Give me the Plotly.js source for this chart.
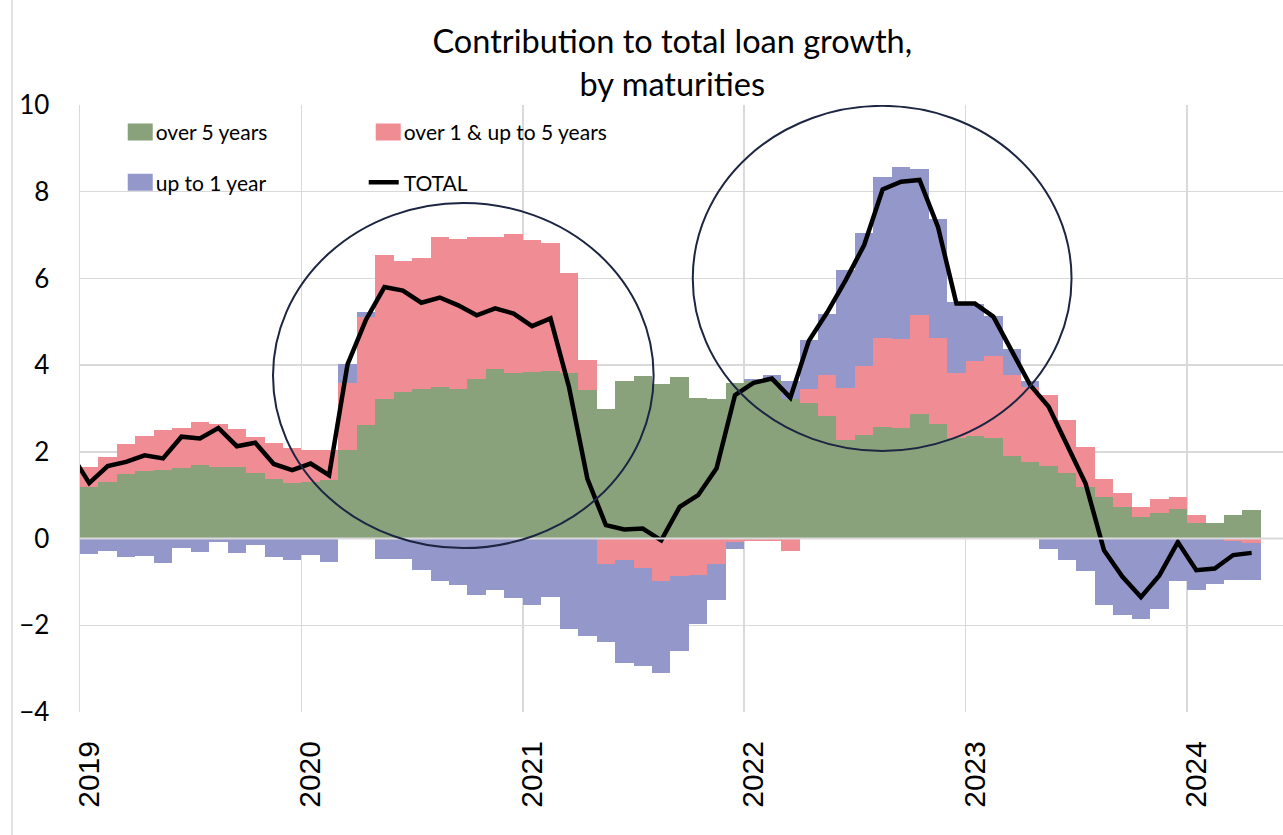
<!DOCTYPE html>
<html>
<head>
<meta charset="utf-8">
<script src="https://cdn.plot.ly/plotly-3.0.1.min.js"></script>
<style>html,body{margin:0;padding:0;background:#fff;}#chart{width:1283px;height:835px;}</style>
</head>
<body>
<div id="chart"></div>
<script>
// ---- data (monthly, Jan 2019 – Apr 2024) ----
const months = [
  '2019-01','2019-02','2019-03','2019-04','2019-05','2019-06','2019-07','2019-08','2019-09','2019-10','2019-11','2019-12',
  '2020-01','2020-02','2020-03','2020-04','2020-05','2020-06','2020-07','2020-08','2020-09','2020-10','2020-11','2020-12',
  '2021-01','2021-02','2021-03','2021-04','2021-05','2021-06','2021-07','2021-08','2021-09','2021-10','2021-11','2021-12',
  '2022-01','2022-02','2022-03','2022-04','2022-05','2022-06','2022-07','2022-08','2022-09','2022-10','2022-11','2022-12',
  '2023-01','2023-02','2023-03','2023-04','2023-05','2023-06','2023-07','2023-08','2023-09','2023-10','2023-11','2023-12',
  '2024-01','2024-02','2024-03','2024-04'
];
const over5 = [
  1.19,1.31,1.48,1.56,1.58,1.63,1.69,1.65,1.64,1.52,1.38,1.28,
  1.31,1.35,2.04,2.62,3.23,3.38,3.44,3.50,3.44,3.67,3.90,3.81,
  3.85,3.87,3.82,3.42,3.00,3.63,3.75,3.56,3.73,3.25,3.21,3.59,
  3.63,3.66,3.23,3.12,2.83,2.28,2.38,2.58,2.55,2.88,2.65,2.31,
  2.36,2.31,1.90,1.77,1.67,1.52,1.19,0.95,0.72,0.50,0.60,0.68,
  0.35,0.35,0.55,0.65
];
const over1to5 = [
  0.45,0.57,0.69,0.80,0.92,0.91,1.00,1.00,0.88,0.83,0.83,0.80,
  0.74,0.69,1.54,2.50,3.31,3.03,3.02,3.45,3.46,3.28,3.06,3.21,
  3.03,2.94,2.30,0.70,-0.58,-0.50,-0.67,-0.98,-0.87,-0.85,-0.58,-0.08,
  -0.05,-0.05,-0.29,0.34,0.94,1.20,1.60,2.05,2.05,2.27,1.97,1.50,
  1.74,1.91,1.87,1.73,1.65,1.21,0.93,0.43,0.33,0.23,0.32,0.28,
  0.19,-0.02,-0.05,-0.10
];
const upTo1 = [
  -0.36,-0.28,-0.42,-0.41,-0.56,-0.22,-0.31,-0.07,-0.33,-0.14,-0.42,-0.50,
  -0.37,-0.55,0.45,0.11,-0.48,-0.46,-0.72,-0.98,-1.06,-1.29,-1.19,-1.36,
  -1.54,-1.35,-2.09,-2.25,-1.80,-2.37,-2.28,-2.12,-1.72,-1.13,-0.83,-0.17,
  0.05,0.12,0.41,1.12,1.42,2.71,3.06,3.70,3.96,3.37,2.76,1.64,
  1.32,0.91,0.61,0.14,-0.25,-0.50,-0.75,-1.54,-1.77,-1.85,-1.62,-0.98,
  -1.19,-1.02,-0.90,-0.86
];
const totalMonths = ['2018-12'].concat(months);
const total = [
  1.96,
  1.28,1.67,1.77,1.92,1.85,2.35,2.31,2.55,2.13,2.21,1.72,1.58,
  1.73,1.46,4.02,5.05,5.80,5.72,5.44,5.56,5.38,5.15,5.31,5.19,
  4.90,5.08,3.50,1.38,0.31,0.21,0.23,-0.04,0.73,1.00,1.62,3.31,
  3.59,3.69,3.25,4.56,5.22,5.96,6.77,8.05,8.23,8.27,7.19,5.42,
  5.42,5.12,4.35,3.54,3.04,2.15,1.27,-0.27,-0.88,-1.35,-0.85,-0.08,
  -0.73,-0.69,-0.38,-0.33
];
const yearLabels = ['2019','2020','2021','2022','2023','2024'];
const seriesNames = ['over 5 years','over 1 & up to 5 years','up to 1 year','TOTAL'];
const titleText = 'Contribution to total loan growth,<br>by maturities';

// ---- helpers ----
function monthIndex(s){ const p=s.split('-'); return (parseInt(p[0])-2019)*12 + (parseInt(p[1])-1); }
const xb = months.map(monthIndex);
const xl = totalMonths.map(monthIndex);
const yearTicks = yearLabels.map(y => monthIndex(y+'-01'));
const yearGrid = yearTicks.slice(1).map(v => v - 0.5);

const GREEN='#8aa27b', PINK='#f08c93', BLUE='#9497c9', GRID='#d9d9d9', NAVY='#1c2541';
const lato = 'Lato, "Open Sans", sans-serif';

const traces = [
  {type:'bar', x:xb, y:over5, name:seriesNames[0], marker:{color:GREEN, line:{width:0}}, legend:'legend'},
  {type:'bar', x:xb, y:over1to5, name:seriesNames[1], marker:{color:PINK, line:{width:0}}, legend:'legend'},
  {type:'bar', x:xb, y:upTo1, name:seriesNames[2], marker:{color:BLUE, line:{width:0}}, legend:'legend2'},
  {type:'scatter', mode:'lines', x:xl, y:total, name:seriesNames[3], line:{color:'#000', width:4.5}, legend:'legend2'}
];

const legendCommon = {
  orientation:'h', entrywidth:203, entrywidthmode:'pixels',
  font:{family:lato, size:21, color:'#000'}, bgcolor:'rgba(0,0,0,0)',
  xanchor:'left', yanchor:'middle', itemclick:false, itemdoubleclick:false, tracegroupgap:0
};

const layout = {
  width:1283, height:835,
  margin:{l:80, r:0, t:105, b:123, pad:0},
  paper_bgcolor:'#fff', plot_bgcolor:'#fff',
  barmode:'relative', bargap:0,
  title:{text:titleText, font:{family:lato, size:32.5, color:'#000'}, x:0.524, xref:'container', xanchor:'center', y:0.936, yref:'container', yanchor:'middle'},
  xaxis:{
    range:[-0.5, 64.7], tickmode:'array', tickvals:yearTicks, ticktext:yearLabels,
    tickangle:-90, tickfont:{family:'"Liberation Sans", Arial, sans-serif', size:30, color:'#000'},
    showgrid:false, zeroline:false, showline:false, ticks:'', ticklabelstandoff:22,
    minor:{tickmode:'array', tickvals:yearGrid, showgrid:true, gridcolor:GRID, gridwidth:1.5, ticks:''}
  },
  yaxis:{
    range:[-4, 10], dtick:2, tick0:0, showgrid:true, gridcolor:GRID, gridwidth:1.5,
    zeroline:false, showline:true, linecolor:GRID, linewidth:1.5, ticks:'',
    tickfont:{family:lato, size:26, color:'#000'}, ticklabelstandoff:24
  },
  legend: Object.assign({x:0.0297, y:0.955}, legendCommon),
  legend2: Object.assign({x:0.0297, y:0.872}, legendCommon),
  shapes:[
    {type:'line', xref:'paper', yref:'y', x0:0, x1:1, y0:0, y1:0, line:{color:GRID, width:2}, layer:'above'},
    {type:'circle', xref:'x', yref:'y', x0:9.96, x1:30.59, y0:-0.22, y1:7.74, line:{color:NAVY, width:2}, layer:'above'},
    {type:'circle', xref:'x', yref:'y', x0:32.71, x1:53.24, y0:2.02, y1:9.98, line:{color:NAVY, width:2}, layer:'above'},
    {type:'line', xref:'paper', yref:'paper', x0:-0.0565, x1:-0.0565, y0:-0.203, y1:1.173, line:{color:GRID, width:1.5}}
  ],
  showlegend:true
};

Plotly.newPlot('chart', traces, layout, {displayModeBar:false, staticPlot:true}).then(function(){
  // Excel-like rectangular swatches for the bar series
  document.querySelectorAll('g.legendpoints path').forEach(function(p){
    const d = p.getAttribute('d') || '';
    if (d.indexOf('H-6V-6') >= 0 || d.indexOf('H-6') >= 0) {
      p.setAttribute('d','M-8,8.5H17V-8.5H-8Z');
    }
  });
});
</script>
</body>
</html>
